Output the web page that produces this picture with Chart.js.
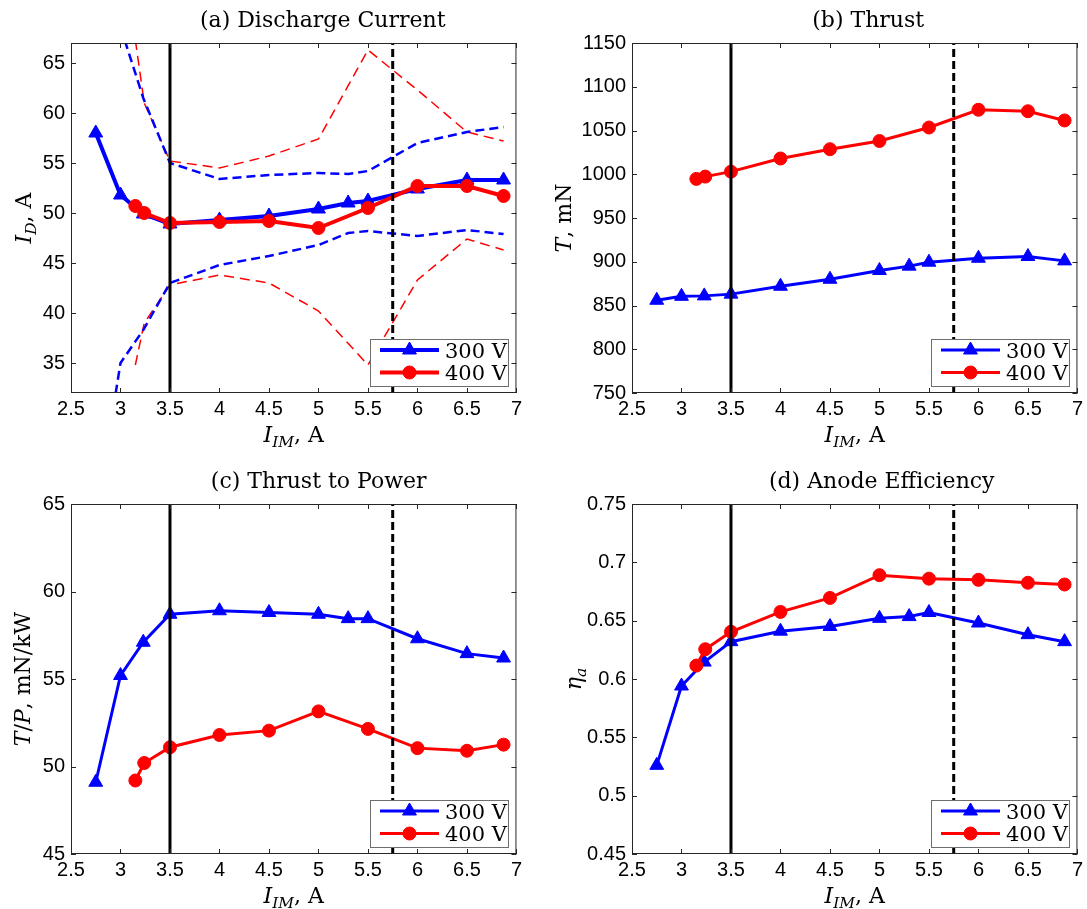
<!DOCTYPE html>
<html>
<head>
<meta charset="utf-8">
<title>Discharge current, thrust, thrust to power and anode efficiency</title>
<script src="https://cdn.jsdelivr.net/npm/chart.js@4.4.1/dist/chart.umd.min.js"></script>
<style>
  html, body { margin: 0; padding: 0; background: #fff; overflow: hidden; }
  #wrap { position: relative; width: 1087px; height: 909px; }
  canvas { position: absolute; }
</style>
</head>
<body>
<div id="wrap">
  <canvas id="panelA" width="526" height="454" style="left:0;top:0"></canvas>
  <canvas id="panelB" width="546" height="454" style="left:541px;top:0"></canvas>
  <canvas id="panelC" width="526" height="448" style="left:0;top:461px"></canvas>
  <canvas id="panelD" width="546" height="448" style="left:541px;top:461px"></canvas>
</div>
<script>
// magnet current I_IM, A
const xTicks = [2.5, 3, 3.5, 4, 4.5, 5, 5.5, 6, 6.5, 7];
const im300 = [2.75, 3.0, 3.23, 3.5, 4.0, 4.5, 5.0, 5.3, 5.5, 6.0, 6.5, 6.87];
const im400 = [3.15, 3.24, 3.5, 4.0, 4.5, 5.0, 5.5, 6.0, 6.5, 6.87];
const nominalIM = 3.5;   // solid black line
const limitIM = 5.75;    // dashed black line

// (a) discharge current, A (with dashed upper/lower bounds)
const idTicks = [35, 40, 45, 50, 55, 60, 65];
const id300 = [58.0, 51.8, 49.9, 48.9, 49.3, 49.7, 50.4, 51.0, 51.2, 52.4, 53.3, 53.3];
const id300Hi = [96.5, 68.6, 61.5, 55.0, 53.4, 53.8, 54.0, 53.9, 54.2, 57.0, 58.1, 58.6];
const id300Lo = [19.5, 35.0, 38.3, 43.0, 44.8, 45.7, 46.8, 48.0, 48.2, 47.7, 48.3, 47.9];
const id400 = [50.7, 50.0, 49.0, 49.1, 49.2, 48.5, 50.5, 52.7, 52.7, 51.7];
const id400Hi = [67.3, 61.0, 55.2, 54.5, 55.7, 57.4, 66.3, 62.3, 58.1, 57.2];
const id400Lo = [34.8, 39.0, 42.8, 43.8, 43.0, 40.2, 34.8, 43.3, 47.4, 46.3];

// (b) thrust, mN
const thrustTicks = [750, 800, 850, 900, 950, 1000, 1050, 1100, 1150];
const thrust300 = [856, 860.5, 861, 863, 872, 880, 890, 895, 899.5, 904, 906, 901];
const thrust400 = [994.7, 997.3, 1003, 1018, 1028.6, 1038, 1053.4, 1073.7, 1072, 1061.5];

// (c) thrust to power, mN/kW
const tpTicks = [45, 50, 55, 60, 65];
const tp300 = [49.1, 55.2, 57.1, 58.7, 58.9, 58.8, 58.7, 58.45, 58.45, 57.3, 56.45, 56.2];
const tp400 = [49.2, 50.2, 51.1, 51.8, 52.05, 53.15, 52.15, 51.05, 50.9, 51.25];

// (d) anode efficiency
const etaTicks = [0.45, 0.5, 0.55, 0.6, 0.65, 0.7, 0.75];
const eta300 = [0.526, 0.594, 0.6145, 0.632, 0.641, 0.645, 0.652, 0.6535, 0.657, 0.648, 0.638, 0.632];
const eta400 = [0.6115, 0.6255, 0.6405, 0.6575, 0.6695, 0.689, 0.686, 0.685, 0.6825, 0.681];

const BLUE = '#0000ff';
const RED = '#ff0000';
const AXIS = '#262626';
const SERIF = '"DejaVu Serif", "Liberation Serif", serif';
const SANS = '"Liberation Sans", Arial, sans-serif';

const pts = (xs, ys) => xs.map((x, i) => ({ x, y: ys[i] }));
const fmt = v => String(+v.toFixed(3));

function series(label, xs, ys, color, marker, lw, order) {
  return {
    label, data: pts(xs, ys), order,
    borderColor: color, backgroundColor: color, borderWidth: lw,
    pointStyle: marker, pointRadius: marker === 'triangle' ? 8 : 6.5,
    pointBorderWidth: 1, pointBackgroundColor: color, pointBorderColor: color
  };
}

function dashed(xs, ys, color, lw, dash) {
  return {
    data: pts(xs, ys), order: 5, borderColor: color, borderWidth: lw,
    borderDash: dash, pointRadius: 0
  };
}

function vline(x, yMin, yMax, dash) {
  return {
    data: [{ x, y: yMin }, { x, y: yMax }], order: 0,
    borderColor: '#000', borderWidth: 3, borderDash: dash, pointRadius: 0
  };
}

// text with italic / subscript parts: [text, italic, sub]
function drawRich(ctx, parts, cx, baseY, size) {
  const font = (p) => `${p[1] ? 'italic ' : ''}${p[2] ? size * 0.7 : size}px ${SERIF}`;
  let total = 0;
  parts.forEach(p => { ctx.font = font(p); total += ctx.measureText(p[0]).width; });
  let x = cx - total / 2;
  ctx.textAlign = 'left';
  ctx.textBaseline = 'alphabetic';
  parts.forEach(p => {
    ctx.font = font(p);
    ctx.fillText(p[0], x, baseY + (p[2] ? size * 0.25 : 0));
    x += ctx.measureText(p[0]).width;
  });
}

// axes box, inward ticks, title, axis labels and legend
const framePlugin = {
  id: 'frame',
  afterDraw(chart) {
    const p = chart.options.plugins.frame;
    const { ctx, chartArea: a, scales } = chart;
    ctx.save();
    ctx.strokeStyle = AXIS;
    ctx.lineWidth = 1;
    ctx.beginPath();
    scales.x.ticks.forEach(t => {
      const px = Math.round(scales.x.getPixelForValue(t.value)) + 0.5;
      ctx.moveTo(px, a.bottom); ctx.lineTo(px, a.bottom - 5);
      ctx.moveTo(px, a.top); ctx.lineTo(px, a.top + 5);
    });
    scales.y.ticks.forEach(t => {
      const py = Math.round(scales.y.getPixelForValue(t.value)) + 0.5;
      ctx.moveTo(a.left, py); ctx.lineTo(a.left + 5, py);
      ctx.moveTo(a.right, py); ctx.lineTo(a.right - 5, py);
    });
    ctx.stroke();
    ctx.strokeRect(a.left + 0.5, a.top + 0.5, a.width - 1, a.height - 1);

    ctx.fillStyle = '#000';
    drawRich(ctx, [[p.title]], (a.left + a.right) / 2 + p.titleDx, a.top - 15.7, 22);
    drawRich(ctx, [['I', 1], ['IM', 1, 1], [', A']], (a.left + a.right) / 2, a.bottom + 48.5, 22);

    ctx.save();
    ctx.translate(a.left + p.yLabelDx, (a.top + a.bottom) / 2);
    ctx.rotate(-Math.PI / 2);
    drawRich(ctx, p.yLabel, 0, 7.5, 22);
    ctx.restore();

    // legend box
    const bw = 138, bh = 47;
    const bx = Math.round(a.right - 8 - bw), by = Math.round(a.bottom - 7 - bh);
    ctx.fillStyle = '#fff';
    ctx.fillRect(bx, by, bw, bh);
    ctx.strokeStyle = '#6e6e6e';
    ctx.strokeRect(bx + 0.5, by + 0.5, bw, bh);
    chart.data.datasets.filter(d => d.label).forEach((d, i) => {
      const y = by + 11 + i * 22.5;
      ctx.strokeStyle = d.borderColor;
      ctx.lineWidth = d.borderWidth;
      ctx.beginPath();
      ctx.moveTo(bx + 10, y); ctx.lineTo(bx + 69, y);
      ctx.stroke();
      ctx.fillStyle = d.borderColor;
      ctx.lineWidth = 1;
      Chart.helpers.drawPoint(ctx, { pointStyle: d.pointStyle, radius: d.pointRadius, rotation: 0, borderWidth: 1 }, bx + 39.5, y);
      ctx.fillStyle = '#000';
      ctx.font = `21px ${SERIF}`;
      ctx.textAlign = 'left';
      ctx.textBaseline = 'alphabetic';
      ctx.fillText(d.label, bx + 75, y + 7.5);
    });
    ctx.restore();
  }
};

function makePanel(id, p) {
  const canvas = document.getElementById(id);
  const H = canvas.height;
  const datasets = [
    series('300 V', im300, p.y300, BLUE, 'triangle', p.lw, 2),
    series('400 V', im400, p.y400, RED, 'circle', p.lw, 1),
    vline(nominalIM, p.yMin, p.yMax, []),
    vline(limitIM, p.yMin, p.yMax, [8, 4])
  ].concat(p.bands || []);

  return new Chart(canvas, {
    type: 'line',
    data: { datasets },
    plugins: [framePlugin],
    options: {
      responsive: false,
      animation: false,
      devicePixelRatio: 1,
      layout: { padding: { top: 43, right: 5, bottom: 0, left: 0 } },
      elements: { line: { tension: 0 } },
      plugins: {
        legend: { display: false },
        tooltip: { enabled: false },
        frame: { title: p.title, titleDx: p.titleDx, yLabel: p.yLabel, yLabelDx: p.yLabelDx }
      },
      scales: {
        x: {
          type: 'linear', min: 2.5, max: 7,
          afterBuildTicks: s => { s.ticks = xTicks.map(v => ({ value: v })); },
          afterFit: s => { s.height = H - 393; },
          grid: { display: false, drawTicks: false },
          border: { display: false },
          ticks: { font: { family: SANS, size: 20 }, color: '#000', padding: 4, maxRotation: 0, autoSkip: false, callback: fmt }
        },
        y: {
          type: 'linear', min: p.yMin, max: p.yMax,
          afterBuildTicks: s => { s.ticks = p.yTicks.map(v => ({ value: v })); },
          afterFit: s => { s.width = p.axisW; },
          grid: { display: false, drawTicks: false },
          border: { display: false },
          ticks: { font: { family: SANS, size: 20 }, color: '#000', padding: 6, autoSkip: false, callback: fmt }
        }
      }
    }
  });
}

makePanel('panelA', {
  title: '(a) Discharge Current', titleDx: 29, axisW: 71,
  yLabel: [['I', 1], ['D', 1, 1], [', A']], yLabelDx: -48,
  yMin: 32, yMax: 67, yTicks: idTicks, lw: 4,
  y300: id300, y400: id400,
  bands: [
    dashed(im300, id300Hi, BLUE, 2.5, [9, 5]),
    dashed(im300, id300Lo, BLUE, 2.5, [9, 5]),
    dashed(im400, id400Hi, RED, 1.5, [10, 6]),
    dashed(im400, id400Lo, RED, 1.5, [10, 6])
  ]
});

makePanel('panelB', {
  title: '(b) Thrust', titleDx: 13.5, axisW: 91,
  yLabel: [['T', 1], [', mN']], yLabelDx: -68.5,
  yMin: 750, yMax: 1150, yTicks: thrustTicks, lw: 3,
  y300: thrust300, y400: thrust400
});

makePanel('panelC', {
  title: '(c) Thrust to Power', titleDx: 25, axisW: 71,
  yLabel: [['T', 1], ['/'], ['P', 1], [', mN/kW']], yLabelDx: -49,
  yMin: 45, yMax: 65, yTicks: tpTicks, lw: 3,
  y300: tp300, y400: tp400
});

makePanel('panelD', {
  title: '(d) Anode Efficiency', titleDx: 27, axisW: 91,
  yLabel: [['η', 1], ['a', 1, 1]], yLabelDx: -59,
  yMin: 0.45, yMax: 0.75, yTicks: etaTicks, lw: 3,
  y300: eta300, y400: eta400
});
</script>
</body>
</html>
